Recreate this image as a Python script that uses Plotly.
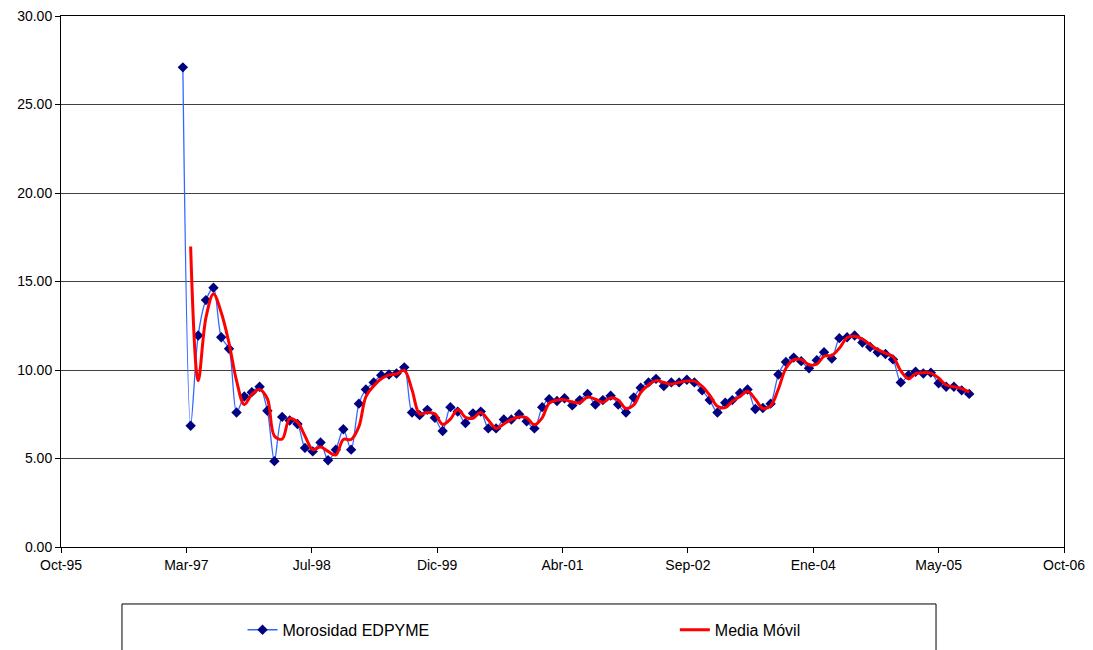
import pandas as pd
import plotly.graph_objects as go

# ---- data ----
first_month = "1997-02-01"
morosidad = [
    27.1, 6.85, 11.95, 13.95, 14.65, 11.85, 11.2, 7.6, 8.5, 8.75,
    9.05, 7.7, 4.85, 7.35, 7.15, 6.95, 5.6, 5.4, 5.9, 4.9,
    5.5, 6.65, 5.5, 8.1, 8.9, 9.3, 9.7, 9.75, 9.8, 10.15,
    7.6, 7.45, 7.75, 7.3, 6.55, 7.9, 7.65, 7.0, 7.55, 7.65,
    6.7, 6.7, 7.2, 7.2, 7.5, 7.1, 6.7, 7.9, 8.35, 8.25,
    8.4, 8.0, 8.3, 8.65, 8.05, 8.3, 8.55, 8.05, 7.6, 8.45,
    9.0, 9.3, 9.5, 9.1, 9.3, 9.3, 9.45, 9.3, 8.85, 8.3,
    7.6, 8.15, 8.3, 8.7, 8.9, 7.8, 7.85, 8.1, 9.75, 10.45,
    10.7, 10.5, 10.1, 10.55, 11.0, 10.65, 11.8, 11.85, 11.95, 11.55,
    11.3, 11.0, 10.9, 10.6, 9.3, 9.7, 9.9, 9.8, 9.85, 9.25,
    9.05, 9.05, 8.85, 8.65,
]
ma_period = 2
axis_start = "1995-10-31"
tick_step_days = 500
tick_labels = ["Oct-95", "Mar-97", "Jul-98", "Dic-99", "Abr-01",
               "Sep-02", "Ene-04", "May-05", "Oct-06"]
y_ticks = [0, 5, 10, 15, 20, 25, 30]
series_names = ["Morosidad EDPYME", "Media Móvil"]

# ---- derived ----
dates = pd.date_range(first_month, periods=len(morosidad), freq="MS") + pd.offsets.MonthEnd(0)
s = pd.Series(morosidad, index=dates)
media = s.rolling(ma_period).mean()
tick_dates = pd.date_range(axis_start, periods=len(tick_labels), freq=f"{tick_step_days}D")

FONT = "Liberation Sans, Arial, sans-serif"

fig = go.Figure()
fig.add_trace(go.Scatter(
    x=dates, y=morosidad, name=series_names[0], mode="lines+markers",
    line=dict(color="#3366FF", width=1.3, shape="spline", smoothing=0.8),
    marker=dict(symbol="diamond", size=8, color="#000080"),
    legend="legend",
))
fig.add_trace(go.Scatter(
    x=media.index[ma_period - 1:], y=media.values[ma_period - 1:], name=series_names[1],
    mode="lines", line=dict(color="#FF0000", width=3, shape="spline", smoothing=1.0),
    legend="legend2",
))

leg_common = dict(orientation="h", y=-0.156, xanchor="left", yanchor="middle",
                  bgcolor="rgba(0,0,0,0)", font=dict(family=FONT, size=16, color="black"))

fig.update_layout(
    width=1093, height=650,
    margin=dict(l=61, r=29, t=16, b=103, autoexpand=False),
    paper_bgcolor="white", plot_bgcolor="white",
    font=dict(family=FONT, size=14, color="black"),
    showlegend=True,
    legend=dict(x=0.181, **leg_common),
    legend2=dict(x=0.612, **leg_common),
    shapes=[dict(type="rect", xref="paper", yref="paper",
                 x0=0.0608, x1=0.8724, y0=-0.1073, y1=-0.21,
                 line=dict(color="black", width=1), fillcolor="rgba(0,0,0,0)")],
)
fig.update_xaxes(
    type="date", range=[tick_dates[0], tick_dates[-1]],
    tickvals=tick_dates, ticktext=tick_labels,
    showgrid=False, showline=True, linecolor="black", linewidth=1, mirror=True,
    ticks="outside", ticklen=5, tickcolor="black", zeroline=False,
    tickfont=dict(family=FONT, size=14, color="black"),
)
fig.update_yaxes(
    range=[0, 30], tickvals=y_ticks, tickformat=".2f",
    showgrid=True, gridcolor="#404040", gridwidth=1,
    showline=True, linecolor="black", linewidth=1, mirror=True,
    ticks="outside", ticklen=5, tickcolor="black", zeroline=False,
    tickfont=dict(family=FONT, size=14, color="black"),
)

fig.write_html("out.html")
